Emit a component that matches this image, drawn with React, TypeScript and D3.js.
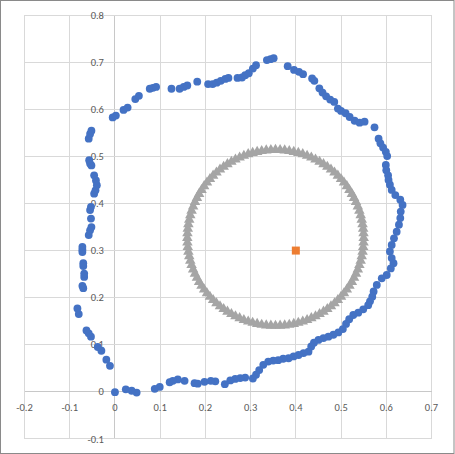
import * as d3 from "d3";

// outer loop (blue circles)
const loopPoints: [number, number][] = [
  [0.0, -0.001], [-0.011, 0.055], [-0.019, 0.068], [-0.03, 0.087], [-0.038, 0.095],
  [-0.053, 0.117], [-0.058, 0.124], [-0.063, 0.13], [-0.08, 0.165], [-0.083, 0.177],
  [-0.07, 0.22], [-0.072, 0.225], [-0.068, 0.244], [-0.068, 0.251], [-0.07, 0.267],
  [-0.07, 0.273], [-0.072, 0.297], [-0.072, 0.302], [-0.072, 0.308], [-0.058, 0.333],
  [-0.055, 0.343], [-0.052, 0.35], [-0.053, 0.368], [-0.055, 0.386], [-0.053, 0.393],
  [-0.046, 0.421], [-0.043, 0.428], [-0.04, 0.439], [-0.042, 0.449], [-0.046, 0.46],
  [-0.052, 0.481], [-0.055, 0.485], [-0.057, 0.492], [-0.058, 0.538], [-0.055, 0.548],
  [-0.052, 0.555],
  [-0.005, 0.583], [0.002, 0.587], [0.019, 0.599], [0.028, 0.604], [0.045, 0.622],
  [0.053, 0.629], [0.077, 0.644], [0.084, 0.646], [0.091, 0.648], [0.125, 0.644],
  [0.143, 0.644], [0.152, 0.648], [0.16, 0.651], [0.182, 0.659], [0.206, 0.654],
  [0.216, 0.654], [0.225, 0.657], [0.234, 0.661], [0.244, 0.665], [0.251, 0.667],
  [0.271, 0.667], [0.281, 0.668], [0.288, 0.673], [0.296, 0.677], [0.305, 0.687],
  [0.312, 0.694], [0.336, 0.705], [0.344, 0.707], [0.351, 0.709],
  [0.382, 0.692], [0.396, 0.684], [0.407, 0.68], [0.416, 0.675], [0.436, 0.666],
  [0.441, 0.661], [0.452, 0.645], [0.459, 0.636], [0.467, 0.628], [0.476, 0.621],
  [0.485, 0.616], [0.493, 0.602], [0.5, 0.597], [0.51, 0.592], [0.519, 0.584],
  [0.53, 0.576], [0.541, 0.572], [0.552, 0.574], [0.574, 0.562], [0.583, 0.538],
  [0.587, 0.528], [0.593, 0.519], [0.599, 0.51], [0.602, 0.501],
  [0.599, 0.482], [0.6, 0.471], [0.604, 0.46], [0.605, 0.45], [0.608, 0.44],
  [0.612, 0.429], [0.62, 0.418], [0.631, 0.408], [0.636, 0.397], [0.632, 0.383],
  [0.631, 0.369], [0.628, 0.355], [0.623, 0.34], [0.617, 0.326], [0.612, 0.312],
  [0.608, 0.298], [0.612, 0.284], [0.616, 0.273], [0.61, 0.262], [0.601, 0.248],
  [0.59, 0.241], [0.579, 0.227], [0.572, 0.213], [0.569, 0.202], [0.564, 0.192],
  [0.56, 0.184], [0.549, 0.175], [0.538, 0.168], [0.527, 0.163], [0.518, 0.154],
  [0.511, 0.144], [0.504, 0.133], [0.494, 0.126], [0.483, 0.121], [0.472, 0.117],
  [0.461, 0.114], [0.45, 0.11], [0.44, 0.104], [0.434, 0.096], [0.428, 0.085],
  [0.417, 0.082], [0.406, 0.078], [0.395, 0.075], [0.384, 0.071], [0.372, 0.07],
  [0.361, 0.067], [0.35, 0.066], [0.339, 0.064], [0.328, 0.057], [0.319, 0.046],
  [0.312, 0.036], [0.305, 0.028],
  [0.288, 0.03], [0.277, 0.029], [0.266, 0.027], [0.255, 0.024], [0.243, 0.016],
  [0.222, 0.022], [0.212, 0.023], [0.198, 0.021], [0.183, 0.017], [0.176, 0.018],
  [0.154, 0.023], [0.139, 0.026], [0.128, 0.023], [0.121, 0.02], [0.099, 0.01],
  [0.088, 0.006], [0.048, -0.002], [0.037, 0.002], [0.024, 0.005],
];

// inner ring (grey triangles), every 3 degrees
const ringX = [
  0.55, 0.5497, 0.5489, 0.5476, 0.5457, 0.5434, 0.5405, 0.5371, 0.5331, 0.5287,
  0.5239, 0.5185, 0.5128, 0.5065, 0.4999, 0.4929, 0.4855, 0.4777, 0.4696, 0.4612,
  0.4525, 0.4435, 0.4343, 0.4249, 0.4153, 0.4055, 0.3955, 0.3855, 0.3754, 0.3652,
  0.355, 0.3448, 0.3346, 0.3245, 0.3145, 0.3045, 0.2947, 0.2851, 0.2757, 0.2665,
  0.2575, 0.2488, 0.2404, 0.2323, 0.2245, 0.2171, 0.2101, 0.2035, 0.1972, 0.1915,
  0.1861, 0.1813, 0.1769, 0.1729, 0.1695, 0.1666, 0.1643, 0.1624, 0.1611, 0.1603,
  0.16, 0.1603, 0.1611, 0.1624, 0.1643, 0.1666, 0.1695, 0.1729, 0.1769, 0.1813,
  0.1861, 0.1915, 0.1972, 0.2035, 0.2101, 0.2171, 0.2245, 0.2323, 0.2404, 0.2488,
  0.2575, 0.2665, 0.2757, 0.2851, 0.2947, 0.3045, 0.3145, 0.3245, 0.3346, 0.3448,
  0.355, 0.3652, 0.3754, 0.3855, 0.3955, 0.4055, 0.4153, 0.4249, 0.4343, 0.4435,
  0.4525, 0.4612, 0.4696, 0.4777, 0.4855, 0.4929, 0.4999, 0.5065, 0.5128, 0.5185,
  0.5239, 0.5287, 0.5331, 0.5371, 0.5405, 0.5434, 0.5457, 0.5476, 0.5489, 0.5497,
];
const ringY = [
  0.327, 0.3368, 0.3465, 0.3562, 0.3658, 0.3754, 0.3848, 0.394, 0.4031, 0.4119,
  0.4205, 0.4288, 0.4369, 0.4447, 0.4521, 0.4592, 0.466, 0.4723, 0.4783, 0.4838,
  0.4889, 0.4936, 0.4978, 0.5016, 0.5049, 0.5076, 0.5099, 0.5117, 0.513, 0.5137,
  0.514, 0.5137, 0.513, 0.5117, 0.5099, 0.5076, 0.5049, 0.5016, 0.4978, 0.4936,
  0.4889, 0.4838, 0.4783, 0.4723, 0.466, 0.4592, 0.4521, 0.4447, 0.4369, 0.4288,
  0.4205, 0.4119, 0.4031, 0.394, 0.3848, 0.3754, 0.3658, 0.3562, 0.3465, 0.3368,
  0.327, 0.3172, 0.3075, 0.2978, 0.2882, 0.2786, 0.2692, 0.26, 0.2509, 0.2421,
  0.2335, 0.2252, 0.2171, 0.2093, 0.2019, 0.1948, 0.188, 0.1817, 0.1757, 0.1702,
  0.1651, 0.1604, 0.1562, 0.1524, 0.1491, 0.1464, 0.1441, 0.1423, 0.141, 0.1403,
  0.14, 0.1403, 0.141, 0.1423, 0.1441, 0.1464, 0.1491, 0.1524, 0.1562, 0.1604,
  0.1651, 0.1702, 0.1757, 0.1817, 0.188, 0.1948, 0.2019, 0.2093, 0.2171, 0.2252,
  0.2335, 0.2421, 0.2509, 0.26, 0.2692, 0.2786, 0.2882, 0.2978, 0.3075, 0.3172,
];

// single orange point
const centerPoint: [number, number] = [0.4, 0.3];

const xTicks = [-0.2, -0.1, 0, 0.1, 0.2, 0.3, 0.4, 0.5, 0.6, 0.7];
const yTicks = [-0.1, 0, 0.1, 0.2, 0.3, 0.4, 0.5, 0.6, 0.7, 0.8];

export default function App() {
  const width = 455;
  const height = 454;
  const x = d3.scaleLinear().domain([-0.2, 0.7]).range([24.5, 431.5]);
  const y = d3.scaleLinear().domain([-0.1, 0.8]).range([438.7, 15.4]);
  const label = (v: number) => String(Math.round(v * 10) / 10);
  const triangle = d3.symbol(d3.symbolTriangle, 48)() ?? "";
  const font = "Calibri, Carlito, 'Liberation Sans', Arial, sans-serif";

  return (
    <svg width={width} height={height} style={{ position: "absolute", left: 0, top: 0, background: "#fff" }}>
      <rect x={0.5} y={0.5} width={width - 1.5} height={height - 1} fill="#fff" stroke="#8a8a8a" />
      <g shapeRendering="crispEdges">
        {xTicks.map((t) => (
          <line key={`gx${t}`} x1={x(t)} x2={x(t)} y1={y(0.8)} y2={y(-0.1)} stroke={t === 0 ? "#c8c8c8" : "#d9d9d9"} />
        ))}
        {yTicks.map((t) => (
          <line key={`gy${t}`} x1={x(-0.2)} x2={x(0.7)} y1={y(t)} y2={y(t)} stroke={t === 0 ? "#c8c8c8" : "#d9d9d9"} />
        ))}
      </g>
      {xTicks.map((t) => (
        <text key={`lx${t}`} x={x(t)} y={y(0) + 19.5} textAnchor="middle" fontSize="10.5" fontFamily={font} fill="#595959">{label(t)}</text>
      ))}
      {yTicks.map((t) => (
        <text key={`ly${t}`} x={x(0) - 11} y={y(t) + 3.8} textAnchor="end" fontSize="10.5" fontFamily={font} fill="#595959">{label(t)}</text>
      ))}
      {loopPoints.map(([px, py], i) => (
        <circle key={`b${i}`} cx={x(px)} cy={y(py)} r={3.9} fill="#4472C4" />
      ))}
      {ringX.map((px, i) => (
        <path key={`r${i}`} d={triangle} transform={`translate(${x(px)},${y(ringY[i])})`} fill="#A5A5A5" />
      ))}
      <rect x={x(centerPoint[0]) - 4} y={y(centerPoint[1]) - 4} width={8} height={8} fill="#ED7D31" />
    </svg>
  );
}
